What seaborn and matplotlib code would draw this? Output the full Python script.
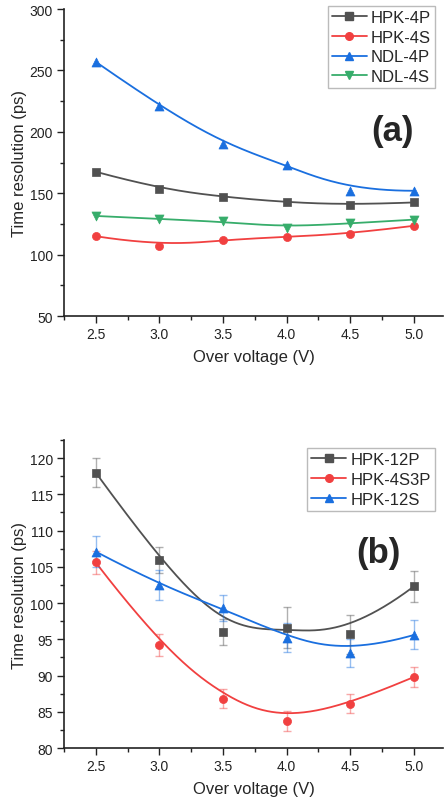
import numpy as np
import pandas as pd
import matplotlib
matplotlib.use("Agg")
import matplotlib.pyplot as plt
from matplotlib.lines import Line2D
from matplotlib.ticker import MultipleLocator
import seaborn as sns

# ---------------- data ----------------
ov = [2.5, 3.0, 3.5, 4.0, 4.5, 5.0]

names_a = ["HPK-4P", "HPK-4S", "NDL-4P", "NDL-4S"]
hpk_4p = [167.5, 153.5, 147.0, 142.5, 140.5, 142.5]
hpk_4s = [115.0, 107.0, 112.0, 114.5, 117.0, 123.5]
ndl_4p = [257.0, 221.0, 190.0, 173.0, 152.0, 152.0]
ndl_4s = [131.5, 129.0, 127.0, 122.0, 125.5, 128.5]

names_b = ["HPK-12P", "HPK-4S3P", "HPK-12S"]
hpk_12p = [118.0, 106.0, 96.0, 96.6, 95.7, 102.3]
hpk_12p_err = [2.0, 1.8, 1.8, 2.8, 2.7, 2.1]
hpk_4s3p = [105.6, 94.2, 86.8, 83.7, 86.1, 89.8]
hpk_4s3p_err = [1.6, 1.5, 1.3, 1.4, 1.3, 1.4]
hpk_12s = [107.1, 102.5, 99.3, 95.25, 93.1, 95.6]
hpk_12s_err = [2.1, 2.1, 1.8, 2.0, 1.9, 2.0]

colors_a = ["#515151", "#F14040", "#1A6FDF", "#37AD6B"]
markers_a = ["s", "o", "^", "v"]
colors_b = ["#515151", "#F14040", "#1A6FDF"]
markers_b = ["s", "o", "^"]
msize = {"s": 30, "o": 34, "^": 42, "v": 42}


def bspline(xs, ys, num=300, k=3):
    P = np.column_stack([xs, ys]).astype(float)
    n = len(P)
    knots = np.concatenate([np.zeros(k), np.arange(n - k + 1), np.full(k, n - k)]).astype(float)
    ts = np.linspace(0, n - k, num)
    out = []
    for t in ts:
        l = k
        while l < n - 1 and not (knots[l] <= t < knots[l + 1]):
            l += 1
        d = [P[j + l - k].copy() for j in range(k + 1)]
        for r in range(1, k + 1):
            for j in range(k, r - 1, -1):
                den = knots[j + 1 + l - r] - knots[j + l - k]
                a = 0.0 if den == 0 else (t - knots[j + l - k]) / den
                d[j] = (1 - a) * d[j - 1] + a * d[j]
        out.append(d[k])
    out = np.array(out)
    return out[:, 0], out[:, 1]


sns.set_style("ticks")
plt.rcParams["font.family"] = ["Liberation Sans", "DejaVu Sans"]
plt.rcParams["xtick.direction"] = "out"
plt.rcParams["ytick.direction"] = "out"

fig = plt.figure(figsize=(4.44, 8.03), dpi=100)
ax1 = fig.add_axes([0.144, 0.6052, 0.854, 0.3823])
ax2 = fig.add_axes([0.144, 0.0672, 0.854, 0.3836])


def draw(ax, names, series, errs, colors, markers, leg_anchor):
    rows = []
    for name, ys in zip(names, series):
        cx, cy = bspline(ov, ys)
        rows.append(pd.DataFrame({"x": cx, "y": cy, "name": name}))
    df = pd.concat(rows, ignore_index=True)
    sns.lineplot(data=df, x="x", y="y", hue="name", palette=dict(zip(names, colors)),
                 ax=ax, legend=False, linewidth=1.3, sort=False, estimator=None)
    for i, (name, ys) in enumerate(zip(names, series)):
        if errs is not None:
            ax.errorbar(ov, ys, yerr=errs[i], fmt="none", ecolor=colors[i], alpha=0.45,
                        elinewidth=1.0, capsize=3, capthick=1.0, zorder=3)
        pts = pd.DataFrame({"x": ov, "y": ys})
        sns.scatterplot(data=pts, x="x", y="y", ax=ax, color=colors[i], marker=markers[i],
                        s=msize[markers[i]], edgecolor=colors[i], linewidth=0.5, zorder=4,
                        legend=False)
    handles = [Line2D([0], [0], color=c, marker=m, markersize=5.5, linewidth=1.3)
               for c, m in zip(colors, markers)]
    leg = ax.legend(handles, names, loc="upper right", bbox_to_anchor=leg_anchor,
                    fontsize=12, frameon=True, fancybox=False, edgecolor="#aaaaaa",
                    handlelength=2.1, handletextpad=0.25, borderpad=0.25,
                    labelspacing=0.28, borderaxespad=0.0)
    leg.get_frame().set_linewidth(1.0)

    ax.set_xlim(2.25, 5.23)
    ax.xaxis.set_minor_locator(MultipleLocator(0.25))
    ax.set_xticks(ov)
    ax.set_xticklabels([f"{v:.1f}" for v in ov])
    ax.set_xlabel("Over voltage (V)", fontsize=12, labelpad=6)
    ax.set_ylabel("Time resolution (ps)", fontsize=12, labelpad=2)
    ax.tick_params(axis="both", which="major", labelsize=10, length=5, width=1,
                   colors="#222222", pad=3)
    ax.tick_params(axis="both", which="minor", length=3, width=1, colors="#222222")
    for s in ["left", "bottom"]:
        ax.spines[s].set_linewidth(1.2)
        ax.spines[s].set_color("#222222")
    sns.despine(ax=ax)


draw(ax1, names_a, [hpk_4p, hpk_4s, ndl_4p, ndl_4s], None, colors_a, markers_a,
     (0.979, 1.01))
ax1.set_ylim(50, 300)
ax1.yaxis.set_major_locator(MultipleLocator(50))
ax1.yaxis.set_minor_locator(MultipleLocator(25))
ax1.text(4.83, 201, "(a)", fontsize=25, fontweight="bold", ha="center", va="center")

draw(ax2, names_b, [hpk_12p, hpk_4s3p, hpk_12s],
     [hpk_12p_err, hpk_4s3p_err, hpk_12s_err], colors_b, markers_b, (0.979, 0.974))
ax2.set_ylim(80, 122.5)
ax2.yaxis.set_major_locator(MultipleLocator(5))
ax2.yaxis.set_minor_locator(MultipleLocator(2.5))
ax2.text(4.72, 107, "(b)", fontsize=25, fontweight="bold", ha="center", va="center")

fig.savefig("out.png", dpi=100)
